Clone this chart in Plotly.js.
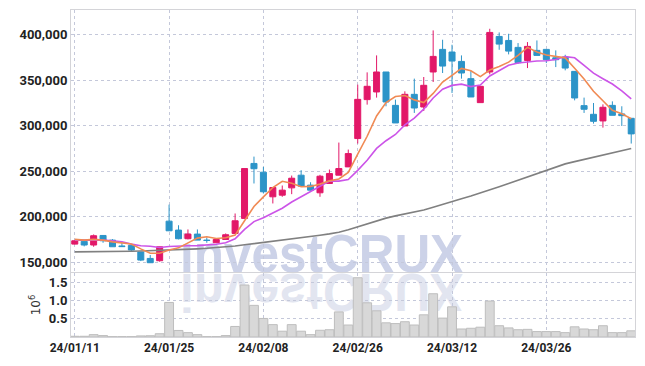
<!DOCTYPE html>
<html>
<head>
<meta charset="utf-8">
<script src="https://cdn.plot.ly/plotly-3.0.1.min.js"></script>
<style>
  html, body { margin:0; padding:0; background:#ffffff; }
  #wrap { position:relative; width:645px; height:366px; overflow:hidden; }
  #chart { position:absolute; left:0; top:0; width:645px; height:366px; z-index:1; }
  .wm { position:absolute; left:180px; font-family:'Liberation Sans', Arial, sans-serif; font-weight:bold;
        font-size:54px; line-height:40px; height:40px; white-space:nowrap; z-index:0; }
  #wm1 { top:233px; color: rgb(204,210,232); transform-origin:0 100%; transform: scale(0.916, 1); }
  #wm2 { top:273px; color: rgb(226,229,240); transform-origin:0 0; transform: scale(0.916, -1) translateY(-40px); }
</style>
</head>
<body>
<div id="wrap">
  <div class="wm" id="wm1">investCRUX</div>
  <div class="wm" id="wm2">investCRUX</div>
  <div id="chart"></div>
</div>
<script>
const dates = ['2024-01-11','2024-01-12','2024-01-15','2024-01-16','2024-01-17','2024-01-18','2024-01-19','2024-01-22','2024-01-23','2024-01-24',
  '2024-01-25','2024-01-26','2024-01-29','2024-01-30','2024-01-31','2024-02-01','2024-02-02','2024-02-05','2024-02-06','2024-02-07',
  '2024-02-08','2024-02-13','2024-02-14','2024-02-15','2024-02-16','2024-02-19','2024-02-20','2024-02-21','2024-02-22','2024-02-23',
  '2024-02-26','2024-02-27','2024-02-28','2024-02-29','2024-03-04','2024-03-05','2024-03-06','2024-03-07','2024-03-08','2024-03-11',
  '2024-03-12','2024-03-13','2024-03-14','2024-03-15','2024-03-18','2024-03-19','2024-03-20','2024-03-21','2024-03-22','2024-03-25',
  '2024-03-26','2024-03-27','2024-03-28','2024-03-29','2024-04-01','2024-04-02','2024-04-03','2024-04-04','2024-04-05','2024-04-08'];

const openP  = [170000,173000,169000,179500,174400,168000,168600,161300,154300,151800,
  195200,185400,175900,181000,174400,171500,175100,181700,198200,258500,
  248900,221900,223700,231700,245600,234700,226300,236500,245600,254700,
  285800,328500,336900,358800,322200,299600,334300,320400,358800,383600,
  380700,370400,351500,325200,358800,397800,393400,385800,371500,382500,
  383600,374400,375200,359500,321900,312400,305100,322200,312800,308000];
const highP  = [174500,173500,180600,179800,175500,171500,168600,161300,158000,167100,
  213300,190700,186100,186100,177300,176300,181700,203600,252900,266000,
  254700,232100,234300,245200,251100,237900,246000,251800,281400,273700,
  344900,358400,377000,358800,328500,337600,351500,353300,404400,394200,
  388700,377000,359800,343100,406200,402200,400700,390500,391600,393400,
  383600,382500,377700,359500,330700,324800,323300,326600,321200,308000];
const lowP   = [169700,167500,167100,171500,167100,167100,162400,151400,149600,150700,
  184600,175200,175200,174400,171500,171500,175100,181700,198200,236500,
  225500,214600,221900,224800,233600,228500,221900,236500,245600,254700,
  280300,323000,330700,321200,302900,299600,313900,316000,347800,357700,
  335800,351500,331400,325200,356200,383200,378100,367900,363100,377000,
  368600,364200,360600,327700,313900,302200,297800,311300,299600,280300];
const closeP = [173700,169000,179200,173700,167100,167300,163500,152500,149600,167100,
  184600,175900,181000,174400,174000,175100,180300,195600,252900,252700,
  227400,232100,229200,242300,233600,229200,244500,247400,252900,269300,
  328800,343100,358800,325900,302900,334300,319300,344200,375900,365300,
  370800,357700,331400,343100,402200,389400,381700,369000,386900,377000,
  372300,372300,363100,330300,317900,304700,320100,311300,310900,290900];

// moving averages (thousand won)
const ma5 = [175.2,174.4,175.2,174.4,172.5,171.3,170.2,164.8,160.0,160.0,
  163.5,165.9,171.6,176.6,178.0,176.1,177.0,179.9,195.6,211.3,
  221.8,232.1,238.9,236.7,232.9,233.3,235.8,239.4,241.5,248.7,
  268.6,288.3,310.6,325.2,331.9,333.0,328.2,325.3,335.3,347.8,
  355.1,362.8,360.2,353.7,361.0,364.8,369.6,377.1,385.8,380.8,
  377.4,375.5,374.3,363.0,351.2,337.7,327.2,316.9,313.0,307.6];
const ma10 = [174.4,174.4,174.8,174.4,173.7,172.6,170.0,168.2,167.6,166.3,
  167.4,168.1,168.2,168.3,169.0,169.8,171.5,175.8,186.1,194.7,
  198.9,204.6,209.4,216.2,222.1,227.5,234.0,239.1,239.1,240.8,
  250.9,262.0,275.0,283.4,290.3,300.8,308.3,318.0,330.3,339.9,
  344.1,345.5,342.8,344.5,354.4,359.9,366.2,368.7,369.8,370.9,
  371.1,372.5,375.7,374.4,366.0,357.5,351.4,345.6,338.0,329.4];
const ma60 = [161.5,161.5,161.6,161.7,161.8,162.0,162.2,162.4,162.7,163.0,
  163.4,163.8,164.3,164.8,165.4,166.0,166.7,168.0,169.3,170.5,
  171.8,173.1,174.4,175.7,177.0,178.3,179.7,181.2,183.0,185.8,
  189.0,192.5,196.0,198.5,201.0,203.0,205.0,207.5,210.5,213.8,
  216.8,219.8,222.8,226.0,229.5,233.0,236.5,240.0,243.5,247.3,
  251.0,254.5,258.0,260.5,263.0,265.3,267.6,270.0,272.3,274.8];

// volume, millions of shares
const volumeM = [0.02,0.02,0.065,0.04,0.01,0.01,0.01,0.03,0.035,0.09,
  0.95,0.18,0.12,0.065,0.01,0.01,0.04,0.29,1.43,0.87,
  0.51,0.34,0.16,0.34,0.16,0.065,0.185,0.2,0.69,0.33,
  1.63,0.94,0.72,0.39,0.37,0.42,0.33,0.61,1.19,0.52,
  0.83,0.22,0.24,0.27,0.99,0.31,0.25,0.2,0.21,0.15,
  0.15,0.15,0.12,0.28,0.22,0.2,0.31,0.12,0.12,0.17];

const priceTicks = [150000,200000,250000,300000,350000,400000];
const volTicks = [0.5,1.0,1.5];
const tickEvery = 10;

const xs = dates.map((d,i)=>i);
const tickIdx = xs.filter(i => i % tickEvery === 0);
const tickText = tickIdx.map(i => dates[i].slice(2).replace(/-/g,'/'));
const k = v => v*1000;

const UP = 'rgb(226,24,104)', DOWN = 'rgb(44,148,200)';
const grid = 'rgb(196,200,218)';
const frame = 'rgb(212,212,216)';
const yfont = {family:'Roboto, sans-serif', size:13, color:'#222', weight:'bold'};
const xfont = {family:'Roboto, sans-serif', size:12, color:'#222', weight:'bold'};

const traces = [
  {type:'candlestick', x:xs, open:openP, high:highP, low:lowP, close:closeP, xaxis:'x', yaxis:'y',
   increasing:{line:{color:UP, width:1}, fillcolor:UP},
   decreasing:{line:{color:DOWN, width:1}, fillcolor:DOWN},
   whiskerwidth:0, hoverinfo:'skip', showlegend:false},
  {type:'scatter', mode:'lines', x:xs, y:ma60.map(k), xaxis:'x', yaxis:'y',
   line:{color:'rgb(128,128,128)', width:1.6}, hoverinfo:'skip', showlegend:false},
  {type:'scatter', mode:'lines', x:xs, y:ma10.map(k), xaxis:'x', yaxis:'y',
   line:{color:'rgb(204,84,232)', width:1.6}, hoverinfo:'skip', showlegend:false},
  {type:'scatter', mode:'lines', x:xs, y:ma5.map(k), xaxis:'x', yaxis:'y',
   line:{color:'rgb(240,138,84)', width:1.6}, hoverinfo:'skip', showlegend:false},
  {type:'bar', x:xs, y:volumeM, xaxis:'x2', yaxis:'y2',
   marker:{color:'rgba(216,216,216,1)', line:{color:'rgb(190,190,190)', width:1}},
   hoverinfo:'skip', showlegend:false}
];

const xCommon = {
  range:[-0.4, 59.4], tickvals:tickIdx, ticktext:tickText, showgrid:true, gridcolor:grid, griddash:'dot', gridwidth:1,
  showline:true, mirror:true, linecolor:frame, linewidth:1, zeroline:false, ticks:'', fixedrange:true
};

const layout = {
  width:645, height:366,
  margin:{l:71, r:10, t:10, b:29},
  paper_bgcolor:'rgba(0,0,0,0)', plot_bgcolor:'rgba(0,0,0,0)',
  font:{family:'Roboto, sans-serif', size:13, color:'#222'}, bargap:0.06,
  boxgap:0.25, boxgroupgap:0.15,
  xaxis: Object.assign({}, xCommon, {anchor:'y', showticklabels:false, rangeslider:{visible:false}}),
  xaxis2: Object.assign({}, xCommon, {anchor:'y2', matches:'x', showticklabels:true, tickfont:xfont}),
  yaxis: {domain:[0.199,1], range:[139500,426800], tickvals:priceTicks, tickformat:',d', tickfont:yfont,
          showgrid:true, gridcolor:grid, griddash:'dot', showline:true, mirror:true, linecolor:frame,
          zeroline:false, ticks:'', fixedrange:true},
  yaxis2: {domain:[0,0.196], range:[0,1.763], tickvals:volTicks, tickformat:'.1f', tickfont:yfont,
           showgrid:true, gridcolor:grid, griddash:'dot', showline:true, mirror:true, linecolor:frame,
           zeroline:false, ticks:'', fixedrange:true,
           title:{text:'10<sup>6</sup>', font:{family:'DejaVu Sans, sans-serif', size:12, color:'#333'}, standoff:5}}
};

Plotly.newPlot('chart', traces, layout, {displayModeBar:false, staticPlot:true});
</script>
</body>
</html>
